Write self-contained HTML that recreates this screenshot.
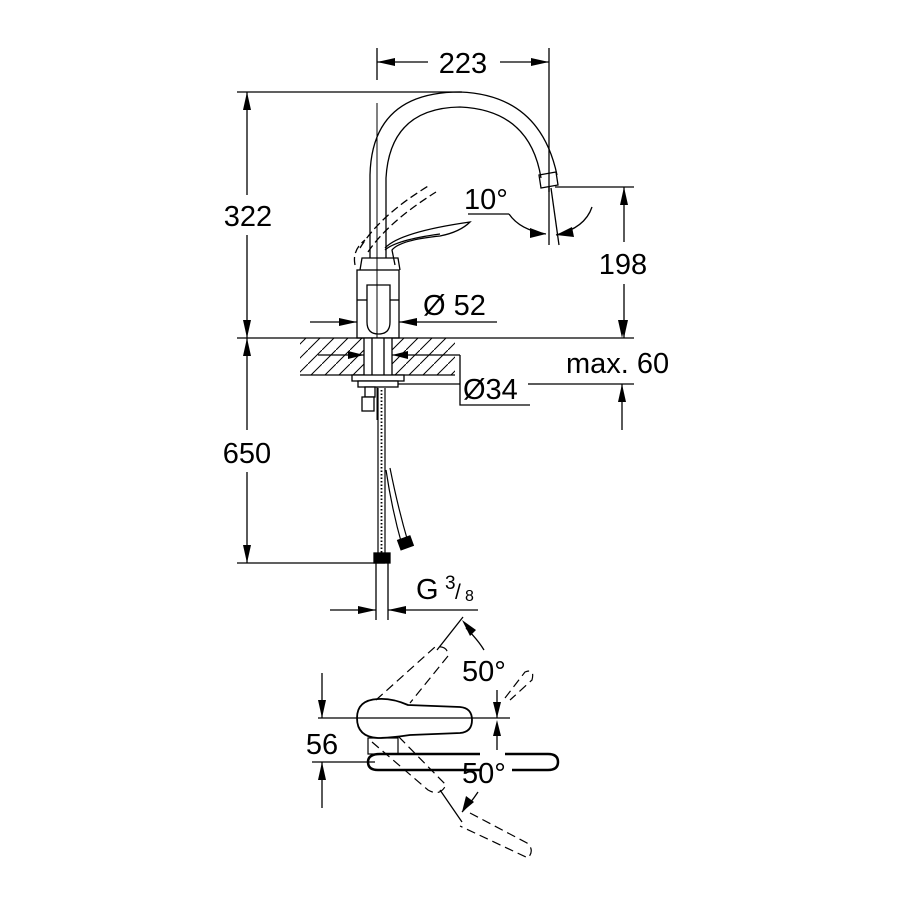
<!DOCTYPE html>
<html><head><meta charset="utf-8"><style>
html,body{margin:0;padding:0;background:#fff}
svg{display:block}
text{font-family:"Liberation Sans",sans-serif;fill:#000}
</style></head><body>
<svg width="900" height="900" viewBox="0 0 900 900" xmlns="http://www.w3.org/2000/svg">
<defs>
<pattern id="h" width="14" height="14" patternUnits="userSpaceOnUse">
<path d="M0 14 L14 0" stroke="#000" stroke-width="1"/>
</pattern>
</defs>
<g stroke="#000" stroke-width="1.3" fill="none">
<line x1="377" y1="48" x2="377" y2="80"/>
<line x1="377" y1="103" x2="377" y2="420" stroke-width="1"/>
<line x1="549" y1="48" x2="549" y2="192"/>
<line x1="377" y1="62" x2="428" y2="62"/>
<line x1="500" y1="62" x2="549" y2="62"/>
<line x1="237" y1="92" x2="462" y2="92"/>
<line x1="247" y1="92" x2="247" y2="195"/>
<line x1="247" y1="235" x2="247" y2="338"/>
<line x1="237" y1="338" x2="634" y2="338"/>
<line x1="247" y1="338" x2="247" y2="430"/>
<line x1="247" y1="472" x2="247" y2="563"/>
<line x1="237" y1="563" x2="385" y2="563"/>
<line x1="555" y1="187" x2="634" y2="187"/>
<line x1="624" y1="187" x2="624" y2="242"/>
<line x1="624" y1="284" x2="624" y2="338"/>
<line x1="540" y1="384" x2="634" y2="384"/>
<line x1="622" y1="384" x2="622" y2="430"/>
<line x1="376" y1="563" x2="376" y2="620"/>
<line x1="388" y1="563" x2="388" y2="620"/>
<line x1="330" y1="610" x2="376" y2="610"/>
<line x1="388" y1="610" x2="478" y2="610"/>
<rect x="300" y="338" width="155" height="37" fill="url(#h)" stroke="none"/>
<line x1="300" y1="375" x2="455" y2="375"/>
<rect x="364" y="338" width="28" height="37" fill="#fff" stroke="none"/>
<line x1="364" y1="338" x2="364" y2="375"/><line x1="392" y1="338" x2="392" y2="375"/>
<line x1="372" y1="338" x2="372" y2="375"/><line x1="384" y1="338" x2="384" y2="375"/>
<line x1="318" y1="355" x2="364" y2="355"/>
<line x1="392" y1="355" x2="460" y2="355"/>
<polyline points="460,355 460,405 530,405"/>
<line x1="398" y1="384" x2="460" y2="384"/>
<line x1="528" y1="384" x2="540" y2="384"/>
<rect x="352" y="375" width="52" height="6" fill="#fff"/>
<rect x="358" y="381" width="40" height="6" fill="#fff"/>
<rect x="365" y="387" width="10" height="10" fill="#fff"/>
<rect x="362" y="397" width="12" height="14" fill="#fff"/>
<line x1="378" y1="388" x2="378" y2="555" stroke-width="1.2"/>
<line x1="385" y1="388" x2="385" y2="555" stroke-width="1.2"/>
<line x1="381.5" y1="390" x2="381.5" y2="553" stroke-dasharray="1.5 2" stroke-width="1.8"/>
<path d="M386 470 Q392 510 402 545" stroke-width="1.2"/>
<path d="M390 468 Q398 508 408 542" stroke-width="1.2"/>
<rect x="399" y="538" width="13" height="10" transform="rotate(-20 405 543)" fill="#000"/>
<rect x="374" y="553" width="16" height="10" fill="#000"/>
<rect x="357" y="270" width="42" height="68"/>
<path d="M360 270 L362 258 L398 258 L400 270"/>
<path d="M367 285 L390 285 L390 322 Q390 334 378.5 334 Q367 334 367 322 Z"/>
<line x1="357" y1="300" x2="367" y2="300"/><line x1="390" y1="300" x2="399" y2="300"/>
<line x1="310" y1="322" x2="357" y2="322"/>
<line x1="399" y1="322" x2="497" y2="322"/>
<path d="M370 258 L370 175 Q372 92 460 92 Q540 95 557 175"/>
<path d="M386 258 L386 178 Q390 108 460 107 Q530 110 541 178"/>
<path d="M539 175 L556 172 L558 185 L541 188 Z"/>
<line x1="549" y1="187" x2="549" y2="245"/>
<line x1="551" y1="188" x2="559" y2="245"/>
<polyline points="468,214 509,214"/>
<path d="M509 214 Q520 230 546 234"/>
<path d="M556 235 Q585 228 592 207"/>
<path d="M385 248 Q400 232 470 222 Q460 232 440 236 Q400 240 392 250 L395 265"/>
<path d="M385 250 Q396 240 440 234"/>
<g stroke-dasharray="8 4">
<path d="M360 248 Q380 215 430 185"/>
<path d="M368 252 Q388 222 436 192"/>
<path d="M355 265 Q352 250 365 240"/>
</g>
<line x1="318" y1="718" x2="510" y2="718"/>
<line x1="312" y1="762" x2="375" y2="762"/>
<line x1="322" y1="673" x2="322" y2="718"/>
<line x1="322" y1="762" x2="322" y2="808"/>
<path d="M357 718 Q357 700 378 699 Q392 698 408 705 L460 707 Q472 708 472 720 Q472 732 460 733 L410 735 Q390 738 378 738 Q357 737 357 718 Z" stroke-width="1.8"/>
<rect x="368" y="738" width="30" height="16" stroke-width="1.2"/>
<path d="M380 754 L480 754 M505 754 L548 754 Q558 754 558 762 Q558 770 548 770 L512 770 M480 770 L378 770 Q368 770 368 762 Q368 754 380 754" stroke-width="2.5"/>
<g stroke-dasharray="9 5" stroke-width="1.2">
<path d="M376 700 L435 647 Q448 645 448 656 L410 703"/>
<path d="M372 742 L428 790 Q440 797 446 785 L398 736"/>
<path d="M470 813 L527 843 Q535 850 528 858 L460 826"/>
<path d="M505 698 L525 672 Q535 668 532 680 L510 700"/>
</g>
<line x1="437" y1="650" x2="463" y2="617"/>
<line x1="440" y1="790" x2="462" y2="822"/>
<path d="M466 628 Q478 640 484 650"/>
<path d="M497 690 L497 718 M497 725 L497 750"/>
<path d="M478 792 Q470 804 462 812"/>
</g>
<g fill="#000">
<polygon points="377,62 395,58 395,66"/>
<polygon points="549,62 531,58 531,66"/>
<polygon points="247,92 243,110 251,110"/>
<polygon points="247,338 243,320 251,320"/>
<polygon points="247,338 243,356 251,356"/>
<polygon points="247,563 243,545 251,545"/>
<polygon points="624,187 620,205 628,205"/>
<polygon points="624,338 620,320 628,320"/>
<polygon points="622,338 618,320 626,320"/>
<polygon points="622,384 618,402 626,402"/>
<polygon points="357,322 339,318 339,326"/>
<polygon points="399,322 417,318 417,326"/>
<polygon points="364,355 348,351 348,359"/>
<polygon points="392,355 408,351 408,359"/>
<polygon points="376,610 358,606 358,614"/>
<polygon points="388,610 406,606 406,614"/>
<polygon points="546,234 530,228 530,238"/>
<polygon points="556,235 572,227 574,237"/>
<polygon points="322,718 318,700 326,700"/>
<polygon points="322,762 318,780 326,780"/>
<polygon points="497,718 493,702 501,702"/>
<polygon points="497,720 493,736 501,736"/>
<polygon points="462,620 470,636 476,630"/>
<polygon points="462,812 466,796 474,802"/>
</g>
<g font-size="29">
<rect x="428" y="46" width="72" height="32" fill="#fff"/>
<text x="463" y="73" text-anchor="middle">223</text>
<text x="248" y="226" text-anchor="middle">322</text>
<text x="247" y="463" text-anchor="middle">650</text>
<text x="623" y="274" text-anchor="middle">198</text>
<text x="566" y="373">max. 60</text>
<text x="464" y="209">10°</text>
<text x="423" y="315">Ø 52</text>
<text x="463" y="399">Ø34</text>
<text x="416" y="599">G</text>
<text x="445" y="589" font-size="19">3</text>
<text x="455" y="599" font-size="21">/</text>
<text x="465" y="601" font-size="16">8</text>
<text x="322" y="754" text-anchor="middle">56</text>
<text x="462" y="681">50°</text>
<text x="462" y="783">50°</text>
</g>
</svg>
</body></html>
